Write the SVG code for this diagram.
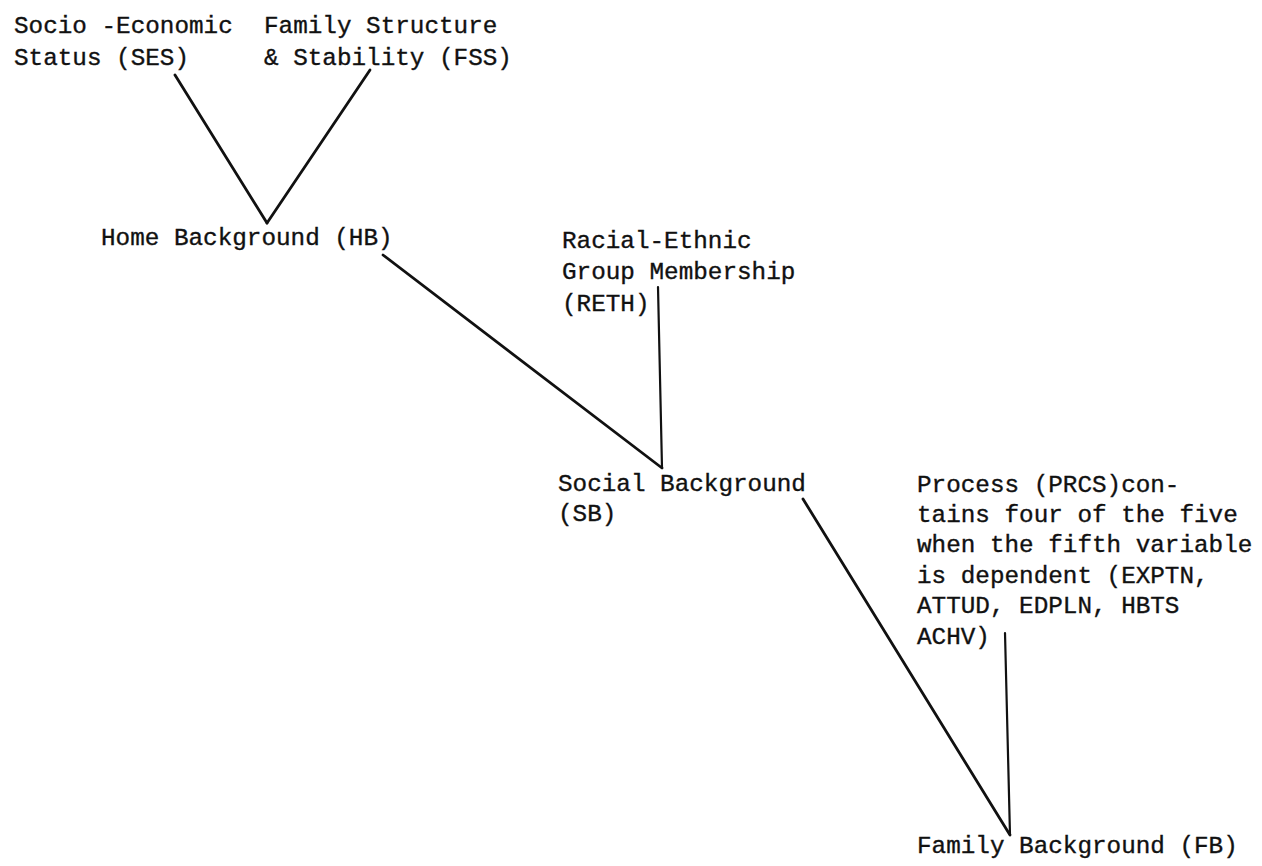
<svg xmlns="http://www.w3.org/2000/svg" width="1262" height="866" viewBox="0 0 1262 866">
  <style>
    .t { font-family: "Liberation Mono", "DejaVu Sans Mono", monospace; font-size: 24.3px; fill: #111; stroke: #111; stroke-width: 0.35; }
    .c { stroke: #111; stroke-width: 2.8; fill: none; stroke-linecap: round; }
    .v { stroke: #111; stroke-width: 2.2; fill: none; stroke-linecap: round; }
  </style>
  <rect width="1262" height="866" fill="#fff"/>
  <g id="connectors">
    <line class="c" x1="175" y1="75" x2="267" y2="223"/>
    <line class="c" x1="370" y1="70" x2="267" y2="223"/>
    <line class="c" x1="383" y1="255" x2="662" y2="468"/>
    <line class="v" x1="658" y1="287" x2="662" y2="468"/>
    <line class="c" x1="803" y1="499" x2="1010" y2="835"/>
    <line class="v" x1="1005" y1="633" x2="1010" y2="835"/>
  </g>
  <g id="ses">
    <text class="t" x="14" y="33">Socio -Economic</text>
    <text class="t" x="14" y="65">Status (SES)</text>
  </g>
  <g id="fss">
    <text class="t" x="264" y="33">Family Structure</text>
    <text class="t" x="264" y="65">&amp; Stability (FSS)</text>
  </g>
  <g id="hb">
    <text class="t" x="101" y="245">Home Background (HB)</text>
  </g>
  <g id="reth">
    <text class="t" x="562" y="248">Racial-Ethnic</text>
    <text class="t" x="562" y="279">Group Membership</text>
    <text class="t" x="562" y="311">(RETH)</text>
  </g>
  <g id="sb">
    <text class="t" x="558" y="491">Social Background</text>
    <text class="t" x="558" y="521">(SB)</text>
  </g>
  <g id="prcs">
    <text class="t" x="917" y="492">Process (PRCS)con-</text>
    <text class="t" x="917" y="522">tains four of the five</text>
    <text class="t" x="917" y="552">when the fifth variable</text>
    <text class="t" x="917" y="583">is dependent (EXPTN,</text>
    <text class="t" x="917" y="613">ATTUD, EDPLN, HBTS</text>
    <text class="t" x="917" y="644">ACHV)</text>
  </g>
  <g id="fb">
    <text class="t" x="917" y="853">Family Background (FB)</text>
  </g>
</svg>
